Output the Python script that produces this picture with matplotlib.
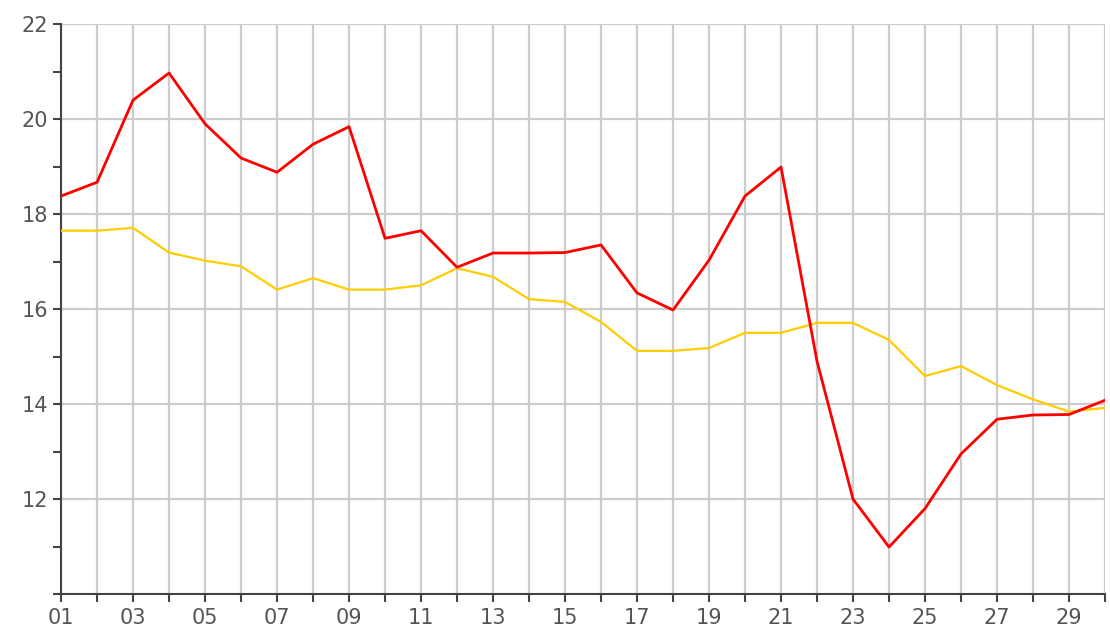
import numpy as np
import matplotlib.pyplot as plt
from matplotlib.ticker import MultipleLocator

days = list(range(1, 31))
day_labels = ['%02d' % d if d % 2 == 1 else '' for d in days]

red = [18.38, 18.67, 20.4, 20.97, 19.9, 19.18, 18.88, 19.47, 19.84, 17.49,
       17.65, 16.88, 17.18, 17.18, 17.19, 17.35, 16.34, 15.98, 17.03, 18.38,
       18.99, 14.9, 12.0, 10.99, 11.8, 12.95, 13.68, 13.77, 13.78, 14.08]
yellow = [17.65, 17.65, 17.71, 17.19, 17.02, 16.9, 16.41, 16.65, 16.41, 16.41,
          16.5, 16.86, 16.68, 16.21, 16.15, 15.73, 15.12, 15.12, 15.18, 15.5,
          15.5, 15.71, 15.71, 15.35, 14.59, 14.8, 14.4, 14.1, 13.84, 13.92]

fig = plt.figure(figsize=(11.1, 6.34), dpi=100)
ax = fig.add_axes([0.055, 0.063, 0.9405, 0.899])

ax.plot(days, yellow, color='#ffcc00', lw=1.6, zorder=3)
ax.plot(days, red, color='#ff0000', lw=2.0, zorder=4)

ax.set_xlim(1, 30)
ax.set_ylim(10, 22)
ax.set_xticks(days)
ax.set_xticklabels(day_labels)
ax.yaxis.set_major_locator(MultipleLocator(2))
ax.yaxis.set_minor_locator(MultipleLocator(1))
ax.set_yticks([12, 14, 16, 18, 20, 22])

ax.grid(True, which='major', color='#cccccc', lw=1.6, zorder=0)
for s in ['top', 'right']:
    ax.spines[s].set_visible(False)
for s in ['left', 'bottom']:
    ax.spines[s].set_color('#444444')
    ax.spines[s].set_linewidth(1.5)
ax.tick_params(which='both', direction='out', length=6, width=1.5,
               color='#444444', labelsize=15, labelcolor='#555555')
ax.tick_params(axis='x', pad=4)

fig.savefig('out.png', dpi=100)
